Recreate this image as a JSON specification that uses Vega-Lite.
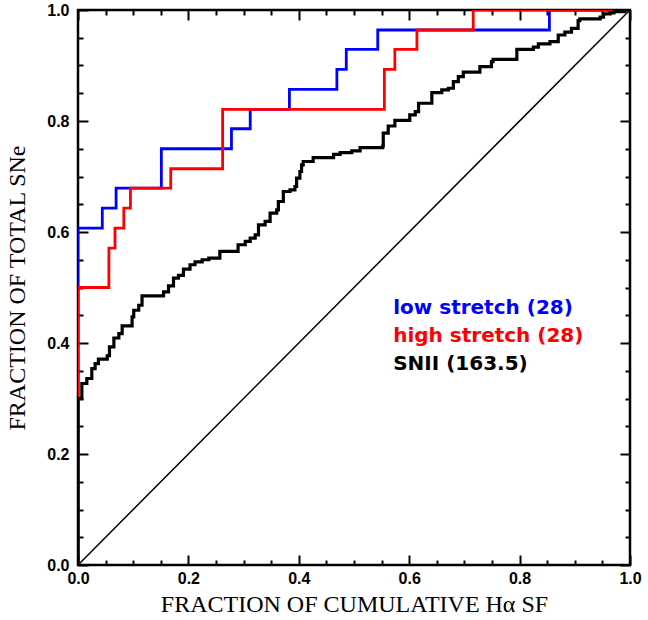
{
  "$schema": "https://vega.github.io/schema/vega-lite/v6.json",
  "width": 552,
  "height": 555,
  "autosize": {"type": "none"},
  "padding": {"left": 78, "top": 10, "right": 18, "bottom": 55},
  "background": "white",
  "config": {
    "view": {"stroke": "black", "strokeWidth": 2.5},
    "axis": {"domain": false, "grid": false, "tickColor": "black", "tickWidth": 2, "labelFlush": false, "labelOverlap": false, "labelBound": false}
  },
  "datasets": {
    "diag": [{"x": 0, "y": 0, "i": 0}, {"x": 1, "y": 1, "i": 1}],
    "low": [
      {"i": 0, "x": 0, "y": 0}, {"i": 1, "x": 0, "y": 0.607}, {"i": 2, "x": 0.044, "y": 0.643},
      {"i": 3, "x": 0.069, "y": 0.679}, {"i": 4, "x": 0.151, "y": 0.75}, {"i": 5, "x": 0.278, "y": 0.786},
      {"i": 6, "x": 0.312, "y": 0.821}, {"i": 7, "x": 0.383, "y": 0.857}, {"i": 8, "x": 0.469, "y": 0.893},
      {"i": 9, "x": 0.486, "y": 0.929}, {"i": 10, "x": 0.543, "y": 0.964}, {"i": 11, "x": 0.854, "y": 1.0},
      {"i": 12, "x": 1.0, "y": 1.0}
    ],
    "high": [
      {"i": 0, "x": 0, "y": 0}, {"i": 1, "x": 0, "y": 0.5}, {"i": 2, "x": 0.056, "y": 0.571},
      {"i": 3, "x": 0.067, "y": 0.607}, {"i": 4, "x": 0.083, "y": 0.643}, {"i": 5, "x": 0.095, "y": 0.679},
      {"i": 6, "x": 0.168, "y": 0.714}, {"i": 7, "x": 0.262, "y": 0.821}, {"i": 8, "x": 0.555, "y": 0.893},
      {"i": 9, "x": 0.574, "y": 0.929}, {"i": 10, "x": 0.614, "y": 0.964}, {"i": 11, "x": 0.716, "y": 1.0},
      {"i": 12, "x": 1.0, "y": 1.0}
    ],
    "snii": [
      {"i": 0, "x": 0, "y": 0}, {"i": 1, "x": 0, "y": 0.30}, {"i": 2, "x": 0.007, "y": 0.327},
      {"i": 3, "x": 0.016, "y": 0.336}, {"i": 4, "x": 0.025, "y": 0.354}, {"i": 5, "x": 0.031, "y": 0.363},
      {"i": 6, "x": 0.037, "y": 0.371}, {"i": 7, "x": 0.053, "y": 0.377}, {"i": 8, "x": 0.057, "y": 0.393},
      {"i": 9, "x": 0.065, "y": 0.409}, {"i": 10, "x": 0.074, "y": 0.417}, {"i": 11, "x": 0.080, "y": 0.431},
      {"i": 12, "x": 0.098, "y": 0.447}, {"i": 13, "x": 0.101, "y": 0.459}, {"i": 14, "x": 0.110, "y": 0.468},
      {"i": 15, "x": 0.116, "y": 0.485}, {"i": 16, "x": 0.155, "y": 0.492}, {"i": 17, "x": 0.164, "y": 0.503},
      {"i": 18, "x": 0.173, "y": 0.517}, {"i": 19, "x": 0.182, "y": 0.522}, {"i": 20, "x": 0.191, "y": 0.533},
      {"i": 21, "x": 0.203, "y": 0.541}, {"i": 22, "x": 0.212, "y": 0.546}, {"i": 23, "x": 0.225, "y": 0.550},
      {"i": 24, "x": 0.237, "y": 0.553}, {"i": 25, "x": 0.257, "y": 0.565}, {"i": 26, "x": 0.290, "y": 0.577},
      {"i": 27, "x": 0.303, "y": 0.583}, {"i": 28, "x": 0.312, "y": 0.589}, {"i": 29, "x": 0.321, "y": 0.595},
      {"i": 30, "x": 0.327, "y": 0.613}, {"i": 31, "x": 0.339, "y": 0.619}, {"i": 32, "x": 0.348, "y": 0.634},
      {"i": 33, "x": 0.360, "y": 0.640}, {"i": 34, "x": 0.363, "y": 0.655}, {"i": 35, "x": 0.372, "y": 0.673},
      {"i": 36, "x": 0.384, "y": 0.676}, {"i": 37, "x": 0.393, "y": 0.682}, {"i": 38, "x": 0.396, "y": 0.697},
      {"i": 39, "x": 0.402, "y": 0.709}, {"i": 40, "x": 0.405, "y": 0.721}, {"i": 41, "x": 0.408, "y": 0.727},
      {"i": 42, "x": 0.426, "y": 0.734}, {"i": 43, "x": 0.463, "y": 0.740}, {"i": 44, "x": 0.475, "y": 0.743},
      {"i": 45, "x": 0.496, "y": 0.746}, {"i": 46, "x": 0.511, "y": 0.752}, {"i": 47, "x": 0.552, "y": 0.755},
      {"i": 48, "x": 0.553, "y": 0.778}, {"i": 49, "x": 0.562, "y": 0.791}, {"i": 50, "x": 0.574, "y": 0.801},
      {"i": 51, "x": 0.601, "y": 0.811}, {"i": 52, "x": 0.611, "y": 0.817}, {"i": 53, "x": 0.617, "y": 0.832},
      {"i": 54, "x": 0.641, "y": 0.851}, {"i": 55, "x": 0.659, "y": 0.856}, {"i": 56, "x": 0.671, "y": 0.859},
      {"i": 57, "x": 0.680, "y": 0.871}, {"i": 58, "x": 0.689, "y": 0.880}, {"i": 59, "x": 0.698, "y": 0.888},
      {"i": 60, "x": 0.728, "y": 0.898}, {"i": 61, "x": 0.749, "y": 0.907}, {"i": 62, "x": 0.752, "y": 0.911},
      {"i": 63, "x": 0.795, "y": 0.929}, {"i": 64, "x": 0.825, "y": 0.933}, {"i": 65, "x": 0.834, "y": 0.939},
      {"i": 66, "x": 0.855, "y": 0.943}, {"i": 67, "x": 0.870, "y": 0.955}, {"i": 68, "x": 0.882, "y": 0.960},
      {"i": 69, "x": 0.894, "y": 0.967}, {"i": 70, "x": 0.906, "y": 0.981}, {"i": 71, "x": 0.909, "y": 0.984},
      {"i": 72, "x": 0.946, "y": 0.987}, {"i": 73, "x": 0.952, "y": 0.993}, {"i": 74, "x": 0.964, "y": 0.995},
      {"i": 75, "x": 0.971, "y": 0.997}, {"i": 76, "x": 0.99, "y": 1.0}, {"i": 77, "x": 1.0, "y": 1.0}
    ],
    "labels": [
      {"label": "low stretch (28)", "series": "low", "x": 0.571, "y": 0.452},
      {"label": "high stretch (28)", "series": "high", "x": 0.571, "y": 0.402},
      {"label": "SNII (163.5)", "series": "snii", "x": 0.571, "y": 0.351}
    ]
  },
  "resolve": {"axis": {"x": "independent", "y": "independent"}},
  "layer": [
    {
      "data": {"name": "diag"},
      "mark": {"type": "line", "color": "black", "strokeWidth": 1.5, "clip": true},
      "encoding": {
        "x": {"field": "x", "type": "quantitative", "scale": {"domain": [0, 1], "nice": false},
          "axis": {"orient": "bottom", "values": [0, 0.2, 0.4, 0.6, 0.8, 1], "format": ".1f", "tickSize": -10,
            "labelPadding": 15, "labelFont": "Liberation Sans", "labelFontWeight": "bold", "labelFontSize": 16, "labelColor": "black",
            "title": "FRACTION OF CUMULATIVE Hα SF", "titleFont": "Liberation Serif", "titleFontSize": 24, "titleFontWeight": "normal",
            "titleColor": "black", "titlePadding": 6}},
        "y": {"field": "y", "type": "quantitative", "scale": {"domain": [0, 1], "nice": false},
          "axis": {"orient": "left", "values": [0, 0.2, 0.4, 0.6, 0.8, 1], "format": ".1f", "tickSize": -10,
            "labelPadding": 19, "labelFont": "Liberation Sans", "labelFontWeight": "bold", "labelFontSize": 16, "labelColor": "black",
            "title": "FRACTION OF TOTAL SNe", "titleFont": "Liberation Serif", "titleFontSize": 24, "titleFontWeight": "normal",
            "titleColor": "black", "titlePadding": 17}},
        "order": {"field": "i", "type": "quantitative"}
      }
    },
    {
      "data": {"name": "low"},
      "mark": {"type": "line", "color": "#0000ff", "strokeWidth": 2.8, "interpolate": "step-after", "clip": true},
      "encoding": {
        "x": {"field": "x", "type": "quantitative",
          "axis": {"orient": "top", "values": [0, 0.2, 0.4, 0.6, 0.8, 1], "tickSize": -10, "labels": false, "title": null}},
        "y": {"field": "y", "type": "quantitative",
          "axis": {"orient": "right", "values": [0, 0.2, 0.4, 0.6, 0.8, 1], "tickSize": -10, "labels": false, "title": null}},
        "order": {"field": "i", "type": "quantitative"}
      }
    },
    {
      "data": {"name": "high"},
      "mark": {"type": "line", "color": "#ff0000", "strokeWidth": 2.8, "interpolate": "step-after", "clip": true},
      "encoding": {
        "x": {"field": "x", "type": "quantitative",
          "axis": {"orient": "top", "values": [0.05, 0.1, 0.15, 0.25, 0.3, 0.35, 0.45, 0.5, 0.55, 0.65, 0.7, 0.75, 0.85, 0.9, 0.95], "tickSize": -5, "labels": false, "title": null}},
        "y": {"field": "y", "type": "quantitative",
          "axis": {"orient": "right", "values": [0.05, 0.1, 0.15, 0.25, 0.3, 0.35, 0.45, 0.5, 0.55, 0.65, 0.7, 0.75, 0.85, 0.9, 0.95], "tickSize": -5, "labels": false, "title": null}},
        "order": {"field": "i", "type": "quantitative"}
      }
    },
    {
      "data": {"name": "snii"},
      "mark": {"type": "line", "color": "black", "strokeWidth": 3.2, "interpolate": "step-after", "clip": true},
      "encoding": {
        "x": {"field": "x", "type": "quantitative",
          "axis": {"orient": "bottom", "values": [0.05, 0.1, 0.15, 0.25, 0.3, 0.35, 0.45, 0.5, 0.55, 0.65, 0.7, 0.75, 0.85, 0.9, 0.95], "tickSize": -5, "labels": false, "title": null}},
        "y": {"field": "y", "type": "quantitative",
          "axis": {"orient": "left", "values": [0.05, 0.1, 0.15, 0.25, 0.3, 0.35, 0.45, 0.5, 0.55, 0.65, 0.7, 0.75, 0.85, 0.9, 0.95], "tickSize": -5, "labels": false, "title": null}},
        "order": {"field": "i", "type": "quantitative"}
      }
    },
    {
      "data": {"name": "labels"},
      "mark": {"type": "text", "align": "left", "baseline": "alphabetic", "font": "DejaVu Sans", "fontSize": 20, "fontWeight": "bold"},
      "encoding": {
        "x": {"field": "x", "type": "quantitative", "axis": null},
        "y": {"field": "y", "type": "quantitative", "axis": null},
        "text": {"field": "label"},
        "color": {"field": "series", "type": "nominal", "scale": {"domain": ["low", "high", "snii"], "range": ["#0000ff", "#ff0000", "black"]}, "legend": null}
      }
    }
  ]
}
